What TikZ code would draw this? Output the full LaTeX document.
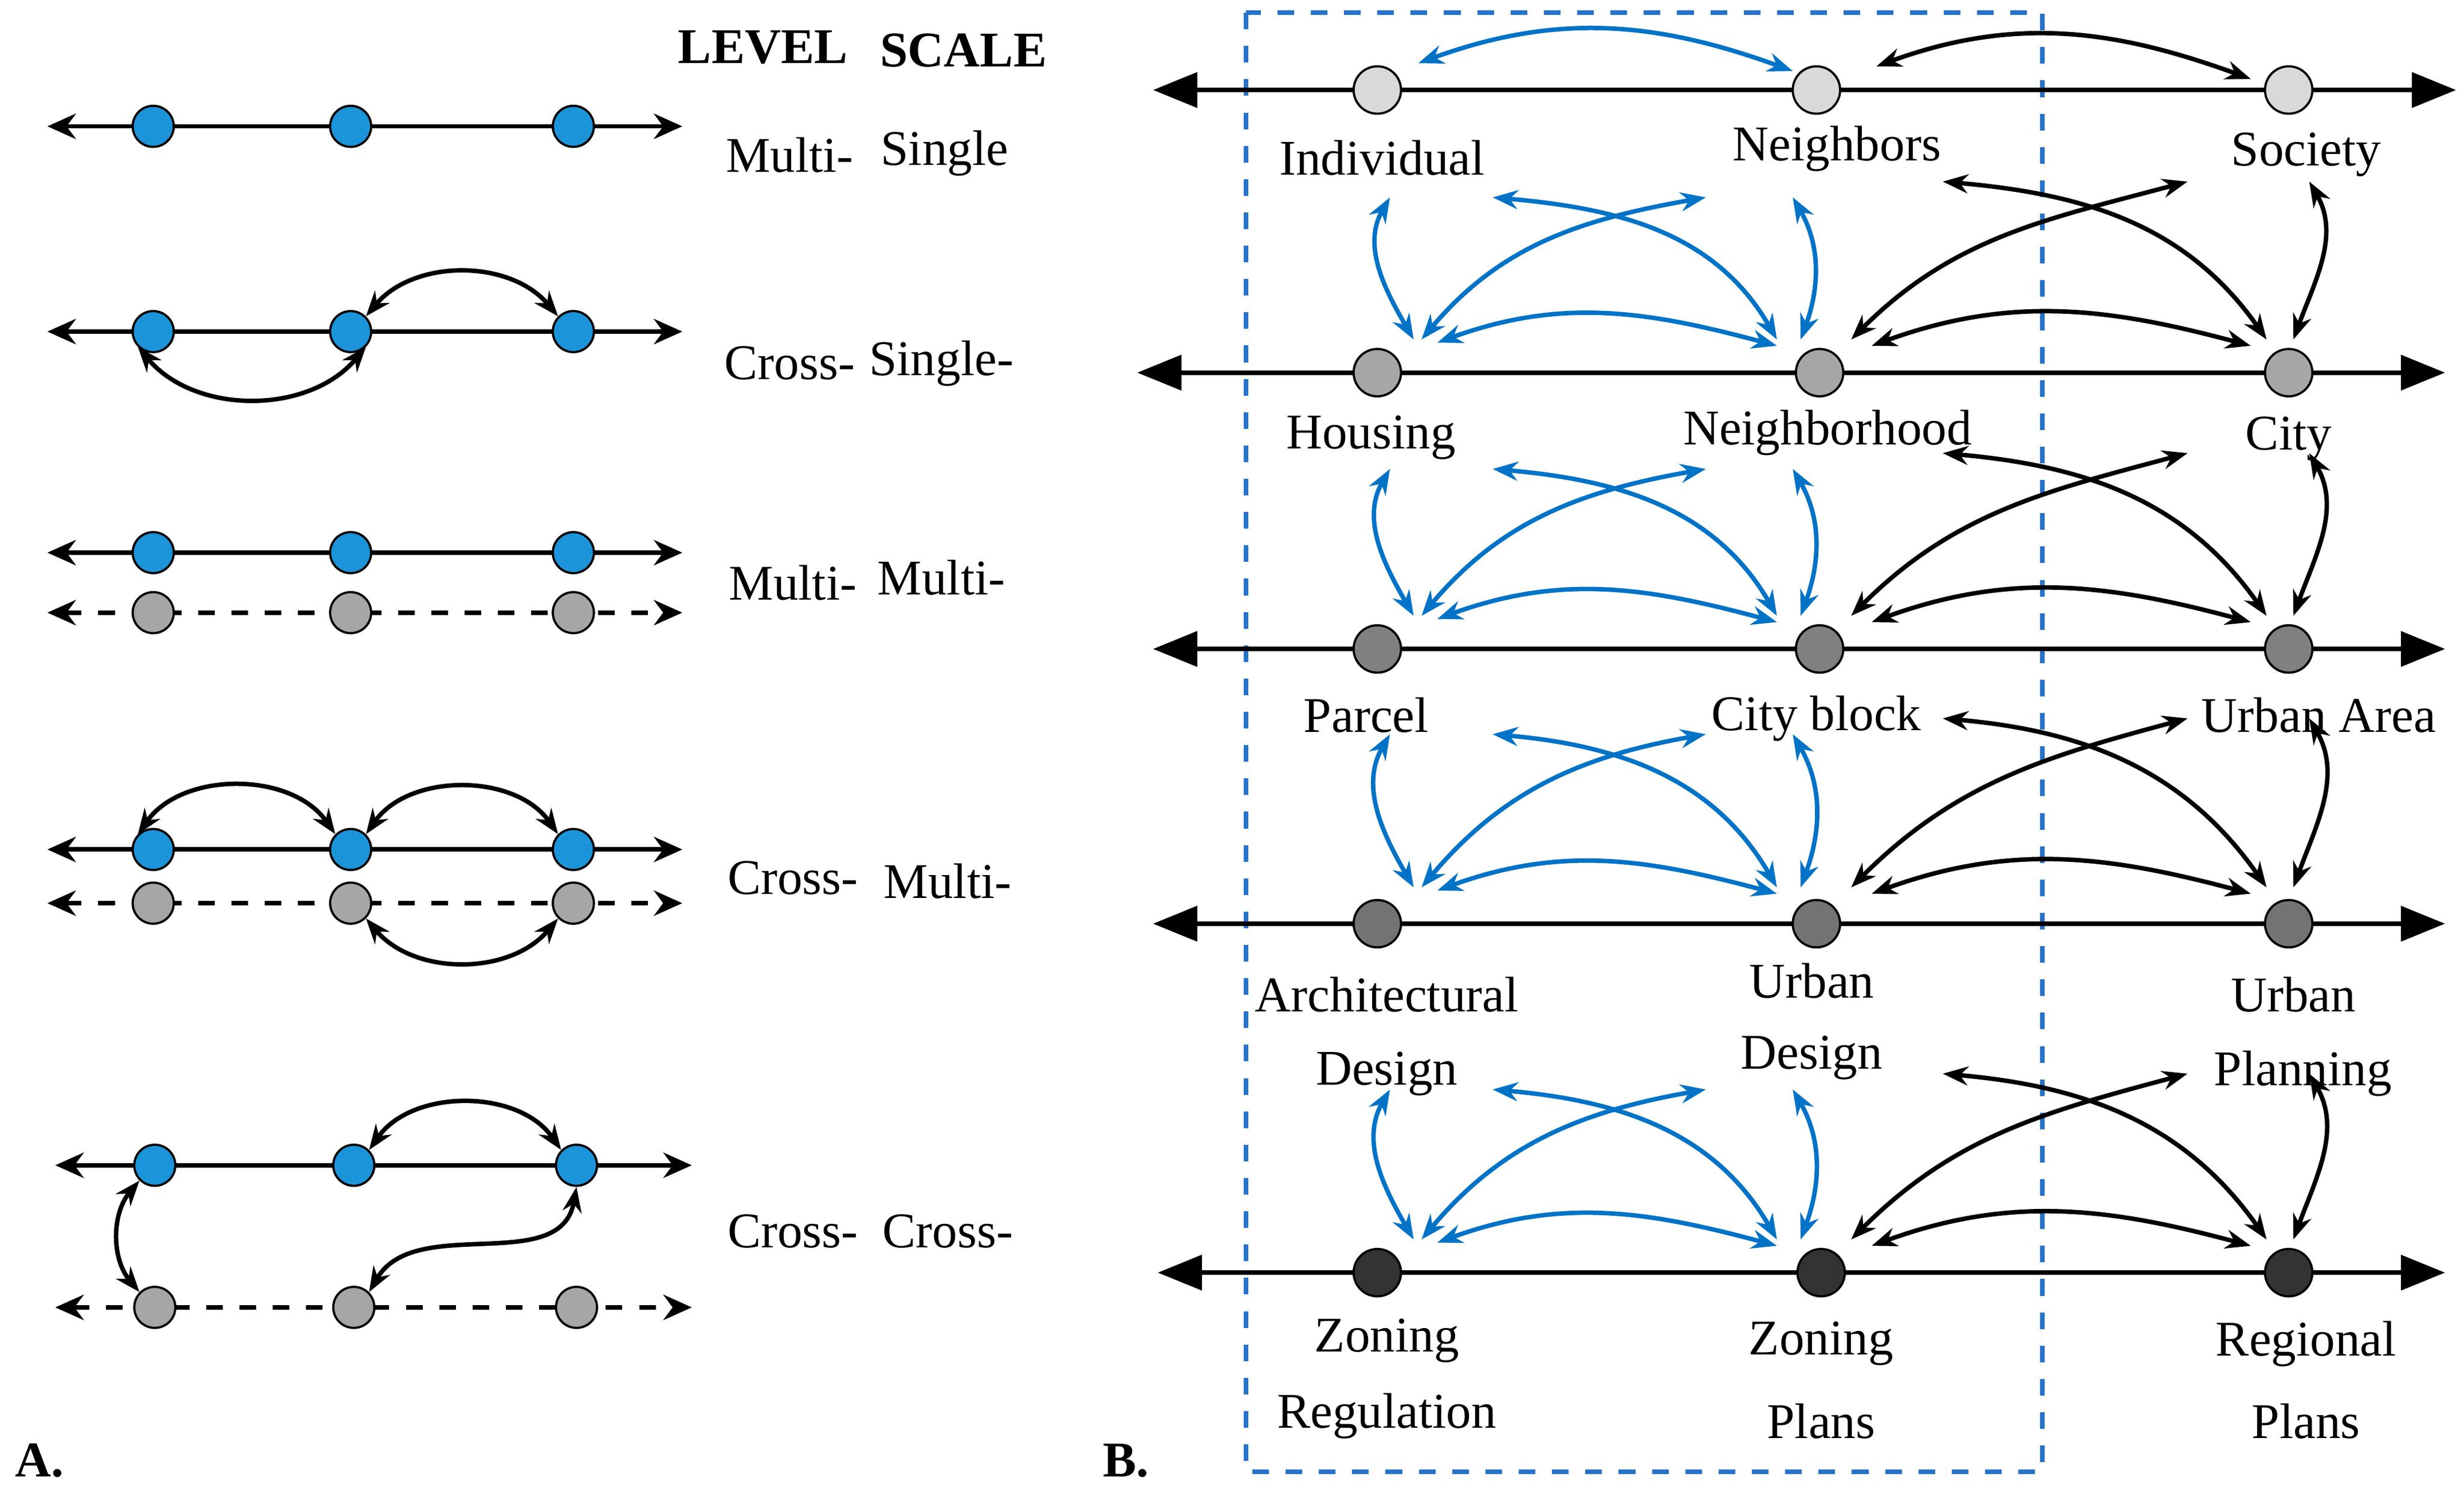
\documentclass[tikz,border=0pt]{standalone}
\usepackage{fontspec}
\setmainfont{Liberation Serif}
\usetikzlibrary{arrows.meta, positioning}
\definecolor{dotblue}{rgb}{0.11, 0.58, 0.85}
\definecolor{linkblue}{rgb}{0.0, 0.45, 0.78}
\definecolor{frameblue}{rgb}{0.15, 0.45, 0.8}

\tikzset{
  dot/.style={draw, circle, inner sep=0pt, minimum size=2.6mm, fill=#1},
  axis/.style={thick, {Stealth[length=1.8mm,width=1.6mm]}-{Stealth[length=1.8mm,width=1.6mm]}},
  bigaxis/.style={thick, {Triangle[length=2.8mm,width=2.2mm]}-{Triangle[length=2.8mm,width=2.2mm]}},
  link/.style={thick, {Stealth[length=1.6mm]}-{Stealth[length=1.6mm]}},
  blink/.style={link, color=linkblue},
  lbl/.style={font=\fontsize{9}{11}\selectfont, align=center},
  head/.style={font=\bfseries\fontsize{9}{11}\selectfont},
}

% the four blue and four black links between two rows of panel B
\newcommand{\rowlinks}[2]{%
  \coordinate (t1) at (880,#1);  \coordinate (b1) at (895,#2);
  \coordinate (t2) at (945,#1);  \coordinate (b2) at (1125,#2);
  \coordinate (t3) at (1080,#1); \coordinate (b3) at (900,#2);
  \coordinate (t4) at (1135,#1); \coordinate (b4) at (1140,#2);
  \coordinate (t5) at (1230,#1-10); \coordinate (b5) at (1435,#2);
  \coordinate (t6) at (1385,#1-10); \coordinate (b6) at (1172,#2);
  \coordinate (t7) at (1462,#1-10); \coordinate (b7) at (1452,#2);
  \draw [blink] (t1) to [out=240, in=120] (b1);
  \draw [blink] (t2) to [out=-5, in=120] (b2);
  \draw [blink] (t3) to [out=190, in=50] (b3);
  \draw [blink] (t4) to [out=-60, in=70] (b4);
  \draw [blink] (910,#2+2) to [out=20, in=165] (1125,#2+4);
  \draw [link] (t5) to [out=-5, in=125] (b5);
  \draw [link] (t6) to [out=195, in=45] (b6);
  \draw [link] (t7) to [out=-60, in=70] (b7);
  \draw [link] (1185,#2+4) to [out=20, in=165] (1425,#2+4);
}

\begin{document}
\begin{tikzpicture}[x=0.1mm, y=-0.1mm]
    \useasboundingbox (0,0) rectangle (1560,948);

    % panel A
    \node[head] (lev) at (483,30) {LEVEL};
    \node[head] (sca) at (610,32) {SCALE};

    \draw [axis] (30,80) -- (432,80);
    \node[dot=dotblue] (a11) at (97,80) {};
    \node[dot=dotblue] (a12) at (222,80) {};
    \node[dot=dotblue] (a13) at (363,80) {};

    \draw [axis] (30,210) -- (432,210);
    \node[dot=dotblue] (a21) at (97,210) {};
    \node[dot=dotblue] (a22) at (222,210) {};
    \node[dot=dotblue] (a23) at (363,210) {};
    \draw [link] (a22.north east) to [out=50, in=130] (a23.north west);
    \draw [link] (a21.south west) to [out=-50, in=-130] (a22.south east);

    \draw [axis] (30,350) -- (432,350);
    \draw [axis, dashed] (30,388) -- (432,388);
    \node[dot=dotblue] (a31) at (97,350) {};
    \node[dot=dotblue] (a32) at (222,350) {};
    \node[dot=dotblue] (a33) at (363,350) {};
    \node[dot=gray!70] (g31) at (97,388) {};
    \node[dot=gray!70] (g32) at (222,388) {};
    \node[dot=gray!70] (g33) at (363,388) {};

    \draw [axis] (30,538) -- (432,538);
    \draw [axis, dashed] (30,572) -- (432,572);
    \node[dot=dotblue] (a41) at (97,538) {};
    \node[dot=dotblue] (a42) at (222,538) {};
    \node[dot=dotblue] (a43) at (363,538) {};
    \node[dot=gray!70] (g41) at (97,572) {};
    \node[dot=gray!70] (g42) at (222,572) {};
    \node[dot=gray!70] (g43) at (363,572) {};
    \draw [link] (a41.north west) to [out=55, in=125] (a42.north west);
    \draw [link] (a42.north east) to [out=55, in=125] (a43.north west);
    \draw [link] (g42.south east) to [out=-50, in=-130] (g43.south west);

    \draw [axis] (35,738) -- (438,738);
    \draw [axis, dashed] (35,828) -- (438,828);
    \node[dot=dotblue] (a51) at (98,738) {};
    \node[dot=dotblue] (a52) at (224,738) {};
    \node[dot=dotblue] (a53) at (365,738) {};
    \node[dot=gray!70] (g51) at (98,828) {};
    \node[dot=gray!70] (g52) at (224,828) {};
    \node[dot=gray!70] (g53) at (365,828) {};
    \draw [link] (a52.north east) to [out=55, in=125] (a53.north west);
    \draw [link] (a51.south west) to [out=230, in=130] (g51.north west);
    \draw [link] (g52.north east) to [out=60, in=260] (a53.south);

    \node[lbl] (l1a) at (500,98) {Multi-};   \node[lbl] (l1b) at (598,97) {Single};
    \node[lbl] (l2a) at (500,230) {Cross-};  \node[lbl] (l2b) at (596,230) {Single-};
    \node[lbl] (l3a) at (502,369) {Multi-};  \node[lbl] (l3b) at (596,366) {Multi-};
    \node[lbl] (l4a) at (502,556) {Cross-};  \node[lbl] (l4b) at (600,558) {Multi-};
    \node[lbl] (l5a) at (502,780) {Cross-};  \node[lbl] (l5b) at (600,780) {Cross-};
    \node[head] (pa) at (25,925) {A.};

    % panel B
    \draw [dashed, thick, color=frameblue] (789,8) rectangle (1293,932);

    \draw [bigaxis] (730,57) -- (1555,57);
    \draw [bigaxis] (720,236) -- (1548,236);
    \draw [bigaxis] (730,411) -- (1548,411);
    \draw [bigaxis] (730,585) -- (1548,585);
    \draw [bigaxis] (733,806) -- (1548,806);

    \node[dot=gray!30, minimum size=3mm] (b11) at (872,57) {};
    \node[dot=gray!30, minimum size=3mm] (b12) at (1150,57) {};
    \node[dot=gray!30, minimum size=3mm] (b13) at (1449,57) {};
    \node[dot=gray!70, minimum size=3mm] (b21) at (872,236) {};
    \node[dot=gray!70, minimum size=3mm] (b22) at (1152,236) {};
    \node[dot=gray!70, minimum size=3mm] (b23) at (1449,236) {};
    \node[dot=gray, minimum size=3mm] (b31) at (872,411) {};
    \node[dot=gray, minimum size=3mm] (b32) at (1152,411) {};
    \node[dot=gray, minimum size=3mm] (b33) at (1449,411) {};
    \node[dot=gray!90!black, minimum size=3mm] (b41) at (872,585) {};
    \node[dot=gray!90!black, minimum size=3mm] (b42) at (1150,585) {};
    \node[dot=gray!90!black, minimum size=3mm] (b43) at (1449,585) {};
    \node[dot=black!80, minimum size=3mm] (b51) at (872,806) {};
    \node[dot=black!80, minimum size=3mm] (b52) at (1153,806) {};
    \node[dot=black!80, minimum size=3mm] (b53) at (1449,806) {};

    \draw [blink] (898,40) to [out=20, in=160] (1135,45);
    \draw [link] (1188,42) to [out=20, in=160] (1425,50);

    \rowlinks{125}{215}
    \rowlinks{297}{390}
    \rowlinks{465}{562}
    \rowlinks{690}{785}

    \node[lbl] (n11) at (875,100) {Individual};
    \node[lbl] (n12) at (1163,94) {Neighbors};
    \node[lbl] (n13) at (1460,98) {Society};
    \node[lbl] (n21) at (868,277) {Housing};
    \node[lbl] (n22) at (1157,274) {Neighborhood};
    \node[lbl] (n23) at (1449,278) {City};
    \node[lbl] (n31) at (865,453) {Parcel};
    \node[lbl] (n32) at (1150,455) {City block};
    \node[lbl] (n33) at (1468,453) {Urban Area};
    \node[lbl] (n41) at (878,630) {Architectural};
    \node[lbl] (n41b) at (878,680) {Design};
    \node[lbl] (n42) at (1147,621) {Urban};
    \node[lbl] (n42b) at (1147,670) {Design};
    \node[lbl] (n43) at (1452,630) {Urban};
    \node[lbl] (n43b) at (1458,680) {Planning};
    \node[lbl] (n51) at (878,849) {Zoning};
    \node[lbl] (n51b) at (878,897) {Regulation};
    \node[lbl] (n52) at (1153,851) {Zoning};
    \node[lbl] (n52b) at (1153,900) {Plans};
    \node[lbl] (n53) at (1460,851) {Regional};
    \node[lbl] (n53b) at (1460,900) {Plans};
    \node[head] (pb) at (713,925) {B.};
\end{tikzpicture}
\end{document}
